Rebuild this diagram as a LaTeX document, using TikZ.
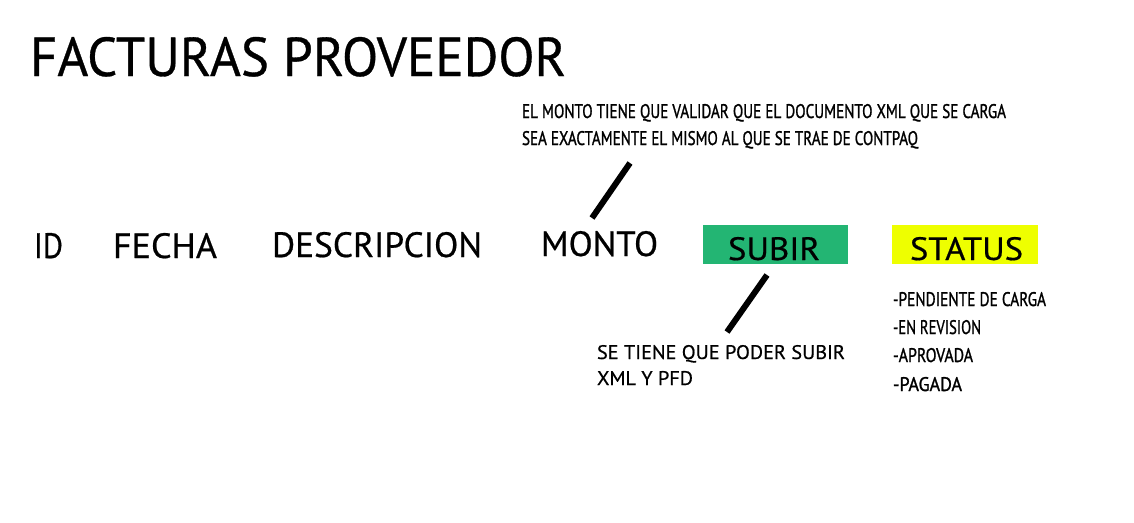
\documentclass[tikz,border=0pt]{standalone}
\usepackage{fontspec}
\usepackage{graphicx}
\setmainfont{PT Sans}
\newfontfamily\bigfont[FakeBold=0.6]{PT Sans}
\newfontfamily\notefont[FakeBold=1.3]{PT Sans}
\definecolor{subirgreen}{RGB}{35,181,115}
\definecolor{statusyellow}{RGB}{238,255,0}
\newcommand{\fitt}[3]{\resizebox{#1pt}{#2pt}{#3}}
\begin{document}
\begin{tikzpicture}[x=1pt,y=-1pt,
  txt/.style={anchor=base west,inner sep=0pt,outer sep=0pt,font=\bigfont},
  note/.style={txt,font=\notefont},
  slash/.style={line width=6pt,black}]
\path[fill=white,use as bounding box] (0,0) rectangle (1134,522);
% title
\node[txt] (title) at (30,76) {\fitt{536}{39}{FACTURAS PROVEEDOR}};
% column headers
\node[txt] (id) at (34,258) {\fitt{29}{25}{ID}};
\node[txt] (fecha) at (113,258) {\fitt{104}{25}{FECHA}};
\node[txt] (desc) at (272,257) {\fitt{210}{25}{DESCRIPCION}};
\node[txt] (monto) at (541,256) {\fitt{117}{25}{MONTO}};
% coloured header boxes
\fill[subirgreen] (703,225) rectangle (848,264);
\node[txt] (subir) at (728,260) {\fitt{92}{23}{SUBIR}};
\fill[statusyellow] (892,225) rectangle (1038,264);
\node[txt] (status) at (910,260) {\fitt{113}{23}{STATUS}};
% note on monto
\node[note] (n1a) at (522,118) {\fitt{484}{14}{EL MONTO TIENE QUE VALIDAR QUE EL DOCUMENTO XML QUE SE CARGA}};
\node[note] (n1b) at (522,145) {\fitt{396}{14}{SEA EXACTAMENTE EL MISMO AL QUE SE TRAE DE CONTPAQ}};
\coordinate (l1a) at (630,163);
\coordinate (l1b) at (592,218);
\draw[slash] (l1a) -- (l1b);
% note on subir
\coordinate (l2a) at (767,275);
\coordinate (l2b) at (727,332);
\draw[slash] (l2a) -- (l2b);
\node[txt] (n2a) at (597,359) {\fitt{248}{14}{SE TIENE QUE PODER SUBIR}};
\node[txt] (n2b) at (597,385) {\fitt{96}{14}{XML Y PFD}};
% status list
\node[note] (s1) at (893,306) {\fitt{153}{14}{-PENDIENTE DE CARGA}};
\node[note] (s2) at (893,334) {\fitt{88}{14}{-EN REVISION}};
\node[note] (s3) at (893,362) {\fitt{80}{14}{-APROVADA}};
\node[note] (s4) at (893,391) {\fitt{69}{14}{-PAGADA}};
\end{tikzpicture}
\end{document}
